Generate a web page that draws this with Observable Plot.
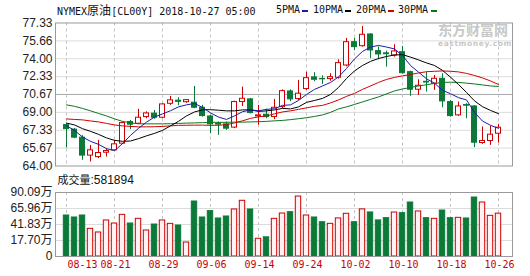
<!DOCTYPE html>
<html><head><meta charset="utf-8">
<script src="https://cdn.jsdelivr.net/npm/d3@7"></script>
<script src="https://cdn.jsdelivr.net/npm/@observablehq/plot@0.6"></script>
<style>
body{margin:0;background:#fff;}
#wrap{position:relative;width:530px;height:276px;overflow:hidden;font-family:"Liberation Sans","Noto Sans CJK SC",sans-serif;color:#111;}
#wrap svg{position:absolute;left:0;overflow:visible;}
.t{position:absolute;white-space:nowrap;line-height:12px;}
.mono{font-family:"DejaVu Sans Mono","Noto Sans CJK SC",monospace;font-size:10px;}
.dash{position:absolute;width:6px;height:2px;}
</style></head><body><div id="wrap"></div>
<script>
const dates = ["08-13","08-14","08-15","08-16","08-17","08-20","08-21","08-22","08-23","08-24","08-27","08-28","08-29","08-30","08-31",
"09-03","09-04","09-05","09-06","09-07","09-10","09-11","09-12","09-13","09-14","09-17","09-18","09-19","09-20","09-21","09-24","09-25","09-26","09-27","09-28",
"10-01","10-02","10-03","10-04","10-05","10-08","10-09","10-10","10-11","10-12","10-15","10-16","10-17","10-18","10-19","10-22","10-23","10-24","10-25","10-26"];
const open = [67.81,67.39,66.64,64.97,64.83,65.24,65.46,66.08,68.10,67.94, 68.56,68.88,68.50,69.80,70.09,69.95,69.90,69.43,68.62,67.94, 67.88,67.58,69.96,70.21,68.62,68.78,68.56,69.49,70.95,70.24, 71.17,72.26,72.12,72.10,72.23,73.37,75.54,75.17,76.26,74.71, 74.50,74.30,74.61,72.75,71.11,71.85,71.67,72.13,69.96,68.72, 69.68,69.55,66.14,66.33,67.01];
const close = [67.44,66.64,64.97,65.46,65.21,65.40,66.02,68.00,67.85,68.50, 68.90,68.50,69.74,70.12,69.98,70.14,69.43,68.65,67.88,67.86, 67.48,69.96,70.27,68.93,68.72,68.56,69.43,70.98,70.21,70.74, 72.19,72.04,72.08,72.28,73.59,75.54,75.08,76.23,74.77,74.40, 74.42,74.68,72.65,71.11,71.48,71.78,72.13,70.02,68.65,69.55, 69.62,66.17,66.33,66.92,67.57];
const high = [67.95,67.50,66.83,65.92,66.39,65.62,66.39,68.10,68.25,69.28, 69.05,69.18,69.80,70.49,70.37,70.20,71.42,69.65,68.72,68.10, 68.10,70.05,71.35,70.30,69.65,69.30,70.21,71.10,71.10,71.98, 72.74,72.70,72.40,72.60,73.90,75.90,75.90,77.00,76.33,75.10, 74.71,75.30,75.15,72.84,72.04,72.75,72.44,72.60,70.10,69.96, 69.81,69.62,67.63,67.70,67.88];
const low = [65.67,66.55,64.53,64.37,64.69,64.83,65.40,66.00,67.39,67.85, 68.40,68.35,68.40,69.65,69.62,69.85,69.34,68.56,67.01,66.86, 67.32,67.48,69.55,68.86,67.79,68.40,68.32,69.35,70.00,70.11, 71.05,71.85,71.60,71.90,72.10,73.25,74.75,75.08,74.00,73.90, 73.21,74.15,72.55,70.49,70.58,70.89,71.05,69.43,68.55,68.62, 68.41,65.71,66.02,65.92,66.14];
const ma5 = [67.74,67.32,66.70,66.30,66.02,65.62,65.43,66.08,66.86,67.51, 68.09,68.56,68.86,69.15,69.51,69.70,69.83,69.46,68.95,68.56, 68.34,68.67,69.06,69.23,69.15,69.28,69.34,69.65,69.70,70.11, 70.67,71.14,71.46,71.79,72.30,73.09,73.98,74.68,75.09,75.24, 75.09,74.91,74.30,73.37,72.75,72.13,71.72,71.05,70.74,70.37, 70.16,69.00,68.19,67.79,67.51];
const ma10 = [68.00,67.83,67.48,67.23,66.95,66.62,66.39,66.30,66.33,66.55, 66.81,67.04,67.32,67.74,68.16,68.67,69.04,69.23,69.25,69.20, 69.14,69.14,69.23,69.23,69.09,69.14,69.23,69.37,69.32,69.51, 69.93,70.11,70.30,70.67,71.32,72.16,72.86,73.37,73.75,74.02, 74.21,74.35,74.38,74.15,73.89,73.61,73.37,72.91,72.28,71.60, 70.86,70.07,69.53,69.18,68.88];
const ma20 = [68.39,68.34,68.30,68.20,68.11,67.97,67.83,67.74,67.69,67.65, 67.65,67.66,67.69,67.74,67.79,67.80,67.81,67.81,67.79,67.80, 67.85,68.02,68.21,68.44,68.58,68.67,68.86,69.04,69.14,69.28, 69.42,69.56,69.65,69.88,70.16,70.49,70.77,71.14,71.46,71.79, 72.07,72.26,72.40,72.53,72.67,72.79,72.83,72.86,72.83,72.77, 72.63,72.44,72.21,71.93,71.60];
const ma30 = [69.70,69.56,69.37,69.14,68.90,68.67,68.39,68.16,68.02,67.94, 67.93,67.93,67.93,67.94,67.97,68.00,68.02,68.04,68.07,68.07, 68.07,68.09,68.09,68.11,68.13,68.16,68.21,68.25,68.32,68.41, 68.50,68.62,68.76,69.00,69.32,69.51,69.74,69.97,70.21,70.44, 70.72,71.00,71.18,71.32,71.46,71.57,71.70,71.79,71.81,71.79, 71.72,71.65,71.56,71.46,71.42];
const volume = [55.4,52.4,55.4,35.3,29.8,47.9,43.3,56.4,43.3,50.4, 32.8,41.8,47.9,42.8,40.3,14.7,76.5,52.4,62.0,50.9, 53.9,64.5,77.6,64.5,20.3,22.5,50.4,58.4,60.4,84.0, 55.4,52.4,45.3,42.8,51.0,58.0,45.3,64.6,60.0,48.0, 51.4,59.9,59.0,75.0,61.5,51.4,50.4,62.9,51.4,51.9, 50.9,82.5,75.0,54.9,58.19];
const priceTicks = [64.00,65.67,67.33,69.00,70.67,72.33,74.00,75.66,77.33];
const volTicks = [17.70,41.83,65.96,90.09];
const volBase = -6.43;
const labelDates = ["08-13","08-21","08-29","09-06","09-14","09-24","10-02","10-10","10-18","10-26"];
const title = "NYMEX原油[CL00Y] 2018-10-27 05:00";
const legendNames = ["5PMA","10PMA","20PMA","30PMA"];
const volLabel = "成交量:581894";

const RED = "#cc0000", GREEN = "#0b7a38";
const MA_COLORS = ["#1c1ca8","#000000","#d40000","#067a1a"];

const rows = dates.map((d,i)=>({date:d, open:open[i], close:close[i], high:high[i], low:low[i],
  ma5:ma5[i], ma10:ma10[i], ma20:ma20[i], ma30:ma30[i], volume:volume[i]}));
const up = rows.filter(r=>r.close>=r.open);
const down = rows.filter(r=>r.close<r.open);

const xOpts = {type:"band", domain:dates, range:[55,509], paddingInner:0.2, paddingOuter:0, axis:null};
const font = "Liberation Sans, Noto Sans CJK SC, sans-serif";

const main = Plot.plot({
  width:530, height:168, marginTop:22.5, marginBottom:2.5, marginLeft:55, marginRight:18,
  x:xOpts,
  y:{domain:[64,77.33], ticks:priceTicks, tickFormat:d=>d.toFixed(2), tickSize:0, tickPadding:3, label:null},
  style:{fontFamily:font, fontSize:"12px", color:"#222", background:"transparent", overflow:"visible"},
  marks:[
    Plot.ruleY(priceTicks.filter(v=>v!==70.67 && v!==64 && v!==77.33), {stroke:"#dcdcdc"}),
    Plot.ruleY([70.67], {stroke:"#a8a8a8"}),
    Plot.ruleX(labelDates, {x:d=>d, stroke:"#c4c4c4", strokeDasharray:"3,3"}),
    Plot.ruleX(up, {x:"date", y1:"low", y2:"high", stroke:RED}),
    Plot.ruleX(down, {x:"date", y1:"low", y2:"high", stroke:GREEN}),
    Plot.barY(up, {x:"date", y1:"open", y2:"close", fill:"#fff", stroke:RED, insetLeft:0.5, insetRight:0.5}),
    Plot.barY(down, {x:"date", y1:"open", y2:"close", fill:GREEN, stroke:GREEN, insetLeft:0.5, insetRight:0.5}),
    Plot.lineY(rows, {x:"date", y:"ma30", stroke:MA_COLORS[3], strokeWidth:1}),
    Plot.lineY(rows, {x:"date", y:"ma20", stroke:MA_COLORS[2], strokeWidth:1}),
    Plot.lineY(rows, {x:"date", y:"ma10", stroke:MA_COLORS[1], strokeWidth:1}),
    Plot.lineY(rows, {x:"date", y:"ma5", stroke:MA_COLORS[0], strokeWidth:1}),
    Plot.frame({stroke:"#9a9a9a"})
  ]
});
main.style.top = "0px";

const vol = Plot.plot({
  width:530, height:108, marginTop:24, marginBottom:20, marginLeft:55, marginRight:18,
  x:xOpts,
  y:{domain:[volBase, volTicks[volTicks.length-1]], ticks:[volBase, ...volTicks],
     tickFormat:d=> d===volBase ? "0" : d.toFixed(2)+"万", tickSize:0, tickPadding:3, label:null},
  style:{fontFamily:font, fontSize:"12px", color:"#222", background:"transparent", overflow:"visible"},
  marks:[
    Plot.ruleY(volTicks.slice(0,-1), {stroke:"#dcdcdc"}),
    Plot.ruleX(labelDates, {x:d=>d, stroke:"#c4c4c4", strokeDasharray:"3,3"}),
    Plot.barY(up, {x:"date", y1:volBase, y2:"volume", fill:"#fff2f2", stroke:RED, insetLeft:0.3, insetRight:0.3}),
    Plot.barY(down, {x:"date", y1:volBase, y2:"volume", fill:GREEN, stroke:GREEN, insetLeft:0.3, insetRight:0.3}),
    Plot.frame({stroke:"#9a9a9a"}),
    Plot.text(labelDates.slice(0,1), {x:d=>d, text:d=>d, frameAnchor:"bottom", dy:11, dx:1, textAnchor:"start",
      fill:RED, fontFamily:"DejaVu Sans Mono", fontSize:10}),
    Plot.text(labelDates.slice(1), {x:d=>d, text:d=>d, frameAnchor:"bottom", dy:11, dx:1,
      fill:RED, fontFamily:"DejaVu Sans Mono", fontSize:10})
  ]
});
vol.style.top = "168px";

const wrap = document.getElementById("wrap");
wrap.appendChild(vol);
wrap.appendChild(main);

function addText(txt, left, top, cls, extra){
  const el = document.createElement("div");
  el.className = "t " + (cls||"");
  el.style.left = left+"px"; el.style.top = top+"px";
  if (extra) Object.assign(el.style, extra);
  el.innerHTML = txt;
  wrap.appendChild(el);
  return el;
}
addText(title.replace("原油", '<span style="font-size:12px;font-family:\'Noto Sans CJK SC\'">原油</span>'), 57, 4, "mono");
const legX = [276, 313, 356, 398];
const dashX = [302, 345, 388, 431];
legendNames.forEach((n,i)=>{
  addText(n, legX[i], 4, "mono");
  const d = document.createElement("div");
  d.className = "dash"; d.style.left = dashX[i]+"px"; d.style.top = "10px"; d.style.background = MA_COLORS[i];
  wrap.appendChild(d);
});
addText(volLabel.replace(/^(成交量)/, '<span style="font-family:\'Noto Sans CJK SC\';font-size:11px">$1</span>'), 57.5, 173, "", {fontSize:"12px"});
addText("东方财富网", 438, 22, "", {fontFamily:"'Noto Sans CJK SC'", fontWeight:"bold", fontSize:"14px", color:"#c8c8c8", lineHeight:"14px"});
addText("eastmoney.com", 438, 40, "", {fontFamily:"'DejaVu Sans'", fontWeight:"bold", fontSize:"7.5px", color:"#c8c8c8", letterSpacing:"0.6px", lineHeight:"7px"});
</script>
</body></html>
